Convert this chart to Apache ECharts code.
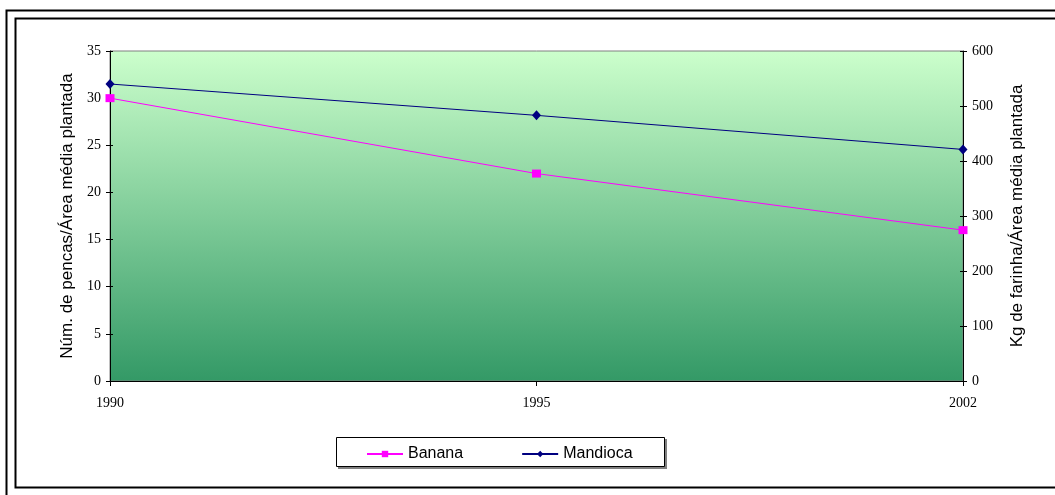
<!DOCTYPE html>
<html><head><meta charset="utf-8">
<script src="https://cdn.jsdelivr.net/npm/echarts@6/dist/echarts.min.js"></script>
<style>html,body{margin:0;padding:0;background:#fff}#c{width:1055px;height:495px}</style>
</head><body><div id="c"></div>
<script>
const years = ['1990', '1995', '2002'];
const banana = [30, 22, 16];
const mandioca = [540, 483, 421];
const leftTicks = {min: 0, max: 35, interval: 5};
const rightTicks = {min: 0, max: 600, interval: 100};
const leftName = 'Núm. de pencas/Área média plantada';
const rightName = 'Kg de farinha/Área média plantada';

const chart = echarts.init(document.getElementById('c'), null, {renderer: 'canvas'});
const serif = 'Liberation Serif';
const sans = 'Liberation Sans';
const labelStyle = {color: '#000', fontFamily: serif, fontSize: 14};
const nameStyle = {color: '#000', fontFamily: sans, fontSize: 17};

chart.setOption({
  animation: false,
  grid: {
    left: 110, right: 92, top: 51, bottom: 114,
    show: true,
    borderColor: '#808080', borderWidth: 1,
    backgroundColor: new echarts.graphic.LinearGradient(0, 0, 0, 1, [
      {offset: 0, color: '#CCFFCC'},
      {offset: 1, color: '#339966'}
    ])
  },
  graphic: [
    {type: 'rect', shape: {x: 6.5, y: 10.5, width: 1060, height: 500}, style: {fill: 'none', stroke: '#000', lineWidth: 2}},
    {type: 'rect', shape: {x: 15.5, y: 18.5, width: 1060, height: 469}, style: {fill: 'none', stroke: '#000', lineWidth: 2}},
    {type: 'rect', shape: {x: 338, y: 439, width: 329, height: 30}, style: {fill: '#808080', stroke: 'none'}},
    {type: 'rect', shape: {x: 336.5, y: 437.5, width: 328, height: 29}, style: {fill: '#fff', stroke: '#000', lineWidth: 1}}
  ],
  legend: {
    left: 361, top: 441,
    itemWidth: 36, itemHeight: 8, itemGap: 58,
    textStyle: {fontFamily: sans, fontSize: 16, color: '#000'},
    data: ['Banana', 'Mandioca']
  },
  xAxis: {
    type: 'category', boundaryGap: false, data: years,
    axisLine: {lineStyle: {color: '#000', width: 1}},
    axisTick: {show: true, alignWithLabel: true, length: 5, lineStyle: {color: '#000'}},
    axisLabel: Object.assign({margin: 15}, labelStyle),
    splitLine: {show: false}
  },
  yAxis: [
    {
      type: 'value', position: 'left', min: leftTicks.min, max: leftTicks.max, interval: leftTicks.interval,
      name: leftName, nameLocation: 'middle', nameRotate: 90, nameGap: 32, nameTextStyle: nameStyle,
      axisLine: {show: true, lineStyle: {color: '#000'}},
      axisTick: {show: true, length: 4, lineStyle: {color: '#000'}},
      axisLabel: Object.assign({margin: 9}, labelStyle),
      splitLine: {show: false}
    },
    {
      type: 'value', position: 'right', min: rightTicks.min, max: rightTicks.max, interval: rightTicks.interval,
      name: rightName, nameLocation: 'middle', nameRotate: 90, nameGap: 46, nameTextStyle: nameStyle,
      axisLine: {show: true, lineStyle: {color: '#000'}},
      axisTick: {show: true, length: 4, lineStyle: {color: '#000'}},
      axisLabel: Object.assign({margin: 9}, labelStyle),
      splitLine: {show: false}
    },
    {
      type: 'value', position: 'left', offset: 0, min: leftTicks.min, max: leftTicks.max, interval: leftTicks.interval,
      axisLine: {show: false}, axisLabel: {show: false}, splitLine: {show: false},
      axisTick: {show: true, inside: true, length: 3, lineStyle: {color: '#000'}}
    },
    {
      type: 'value', position: 'right', offset: 0, min: rightTicks.min, max: rightTicks.max, interval: rightTicks.interval,
      axisLine: {show: false}, axisLabel: {show: false}, splitLine: {show: false},
      axisTick: {show: true, inside: true, length: 3, lineStyle: {color: '#000'}}
    }
  ],
  series: [
    {
      name: 'Banana', type: 'line', yAxisIndex: 0, data: banana,
      lineStyle: {color: '#FF00FF', width: 1},
      itemStyle: {color: '#FF00FF'},
      symbol: 'rect', symbolSize: [9, 8], showAllSymbol: true
    },
    {
      name: 'Mandioca', type: 'line', yAxisIndex: 1, data: mandioca,
      lineStyle: {color: '#000080', width: 1},
      itemStyle: {color: '#000080'},
      symbol: 'diamond', symbolSize: [9, 10], showAllSymbol: true
    }
  ]
});
</script>
</body></html>
